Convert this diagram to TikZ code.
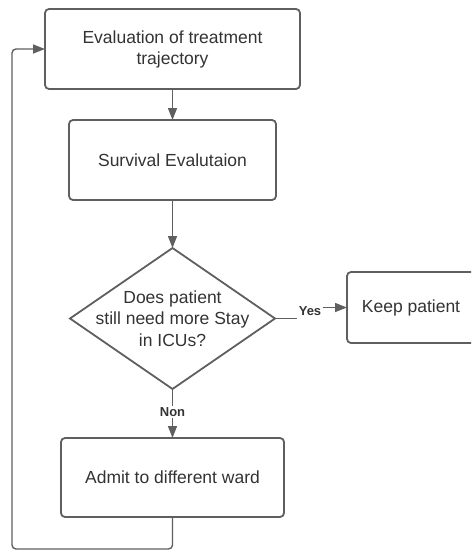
\documentclass[tikz,border=0pt]{standalone}
\usepackage{fontspec}
\setmainfont{Liberation Sans}
\usetikzlibrary{positioning,arrows.meta,shapes.geometric}
\definecolor{linegray}{HTML}{5F5F5F}
\definecolor{textgray}{HTML}{333333}

\begin{document}
\begin{tikzpicture}[
  x=1pt, y=-1pt,
  box/.style={draw=linegray, line width=1.8pt, rounded corners=4pt, fill=white, align=center, minimum height=80pt, outer sep=0pt, text=textgray, font=\fontsize{17.5}{21}\selectfont},
  decision/.style={draw=linegray, line width=1.8pt, diamond, inner sep=0pt, outer sep=0pt, minimum width=205pt, minimum height=141pt},
  question/.style={align=center, text=textgray, font=\fontsize{17.5}{21.5}\selectfont},
  edgelabel/.style={inner sep=1.5pt, text=textgray, font=\fontsize{13}{15}\selectfont\bfseries},
  conn/.style={draw=linegray, line width=1.4pt},
  tip/.style={-{Triangle[length=12pt,width=9pt]}}
]
\clip (0,0) rectangle (471,551);

% Main column
\node[box, minimum width=255pt] (eval) at (172.5,49) {Evaluation of treatment\\trajectory};
\node[box, minimum width=207pt, below=31pt of eval] (surv) {Survival Evalutaion};
\node[decision, below=48pt of surv] (dec) {};
\node[question] (decq) at (dec) {Does patient\\still need more Stay\\in ICUs?};
\node[box, minimum width=223pt, minimum height=79pt, below=49pt of dec] (admit) {Admit to different ward};

% Right branch
\node[box, minimum width=128pt, minimum height=71pt, anchor=west] (keep) at (347,307.5) {Keep patient};

% Edge labels
\node[edgelabel] (yes) at (310,311) {Yes};
\node[edgelabel] (non) at (172.5,412) {Non};

% Arrows
\draw[conn, tip] (eval.south) -- (surv.north);
\draw[conn, tip] (surv.south) -- (dec.north);
\draw[conn] (dec.east) -- (dec.east -| yes.west);
\draw[conn, tip] (yes.east |- keep.west) -- (keep.west);
\draw[conn] (dec.south) -- (non.north);
\draw[conn, tip] (non.south) -- (admit.north);

% Loop back
\coordinate (loopcorner) at (12,549);
\draw[conn, tip, rounded corners=4pt] (admit.south) |- (loopcorner) |- (eval.west);
\end{tikzpicture}
\end{document}
